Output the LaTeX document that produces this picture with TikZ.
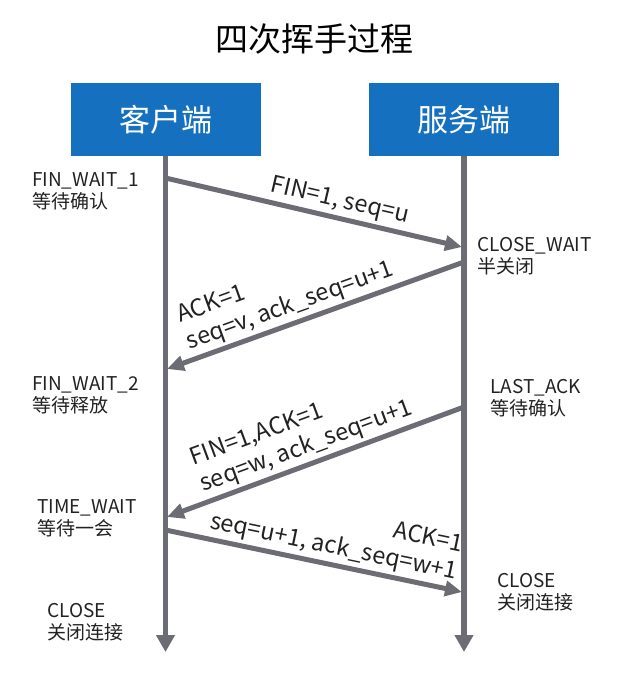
\documentclass[tikz,border=0pt]{standalone}
\usepackage{fontspec}
\setmainfont{Noto Sans CJK SC}
\usetikzlibrary{arrows.meta}
\definecolor{boxblue}{HTML}{1570BF}
\definecolor{linegray}{HTML}{6C6D74}
\definecolor{txt}{HTML}{222222}
\begin{document}
\begin{tikzpicture}[x=1pt,y=-1pt,
  box/.style={fill=boxblue, draw=none, minimum width=190pt, minimum height=73pt, text=white, font=\fontsize{31}{36}\selectfont, inner sep=0pt},
  life/.style={draw=linegray, line width=5.5pt, -{Triangle[length=17pt,width=18pt]}},
  msg/.style={draw=linegray, line width=5pt, -{Triangle[length=17pt,width=15pt]}},
  state/.style={anchor=base west, align=left, inner sep=0pt, text=txt, font=\fontsize{19}{22.5}\selectfont},
  lbl/.style={sloped, above, inner sep=3pt, text=txt, font=\fontsize{23.5}{28}\selectfont}]
\useasboundingbox (0,0) rectangle (634,678);
\node[font=\fontsize{33}{38}\selectfont, text=black] (title) at (314,39) {四次挥手过程};
\node[box] (cbox) at (165.5,119.5) {客户端};
\node[box] (sbox) at (464,119.5) {服务端};
\coordinate (cend) at (165.5,652);
\coordinate (send) at (464,652);
\draw[life] (cbox.south) -- (cend);
\draw[life] (sbox.south) -- (send);
\coordinate (c1) at (165.5,178); \coordinate (s1) at (462,247);
\coordinate (s2) at (464,262);   \coordinate (c2) at (167,369);
\coordinate (s3) at (464,407);   \coordinate (c3) at (167,517);
\coordinate (c4) at (165.5,530); \coordinate (s4) at (462,592);
\draw[msg] (c1) -- node[lbl, pos=0.575] (l1) {FIN=1, seq=u} (s1);
\draw[msg] (s2) -- node[lbl, pos=0.565, align=left] (l2) {ACK=1\\seq=v, ack\_seq=u+1} (c2);
\draw[msg] (s3) -- node[lbl, pos=0.51, align=left] (l3) {FIN=1,ACK=1\\seq=w, ack\_seq=u+1} (c3);
\draw[msg] (c4) -- node[lbl, pos=0.555, align=right] (l4) {ACK=1\\seq=u+1, ack\_seq=w+1} (s4);
\node[state] (fw1) at (32,208.5) {FIN\_WAIT\_1\\等待确认};
\node[state] (fw2) at (32,412.5) {FIN\_WAIT\_2\\等待释放};
\node[state] (tw) at (37,535.5) {TIME\_WAIT\\等待一会};
\node[state] (cl) at (47,639.5) {CLOSE\\关闭连接};
\node[state] (cw) at (477,273.5) {CLOSE\_WAIT\\半关闭};
\node[state] (la) at (490,415.5) {LAST\_ACK\\等待确认};
\node[state] (cr) at (497,609.5) {CLOSE\\关闭连接};
\end{tikzpicture}
\end{document}
